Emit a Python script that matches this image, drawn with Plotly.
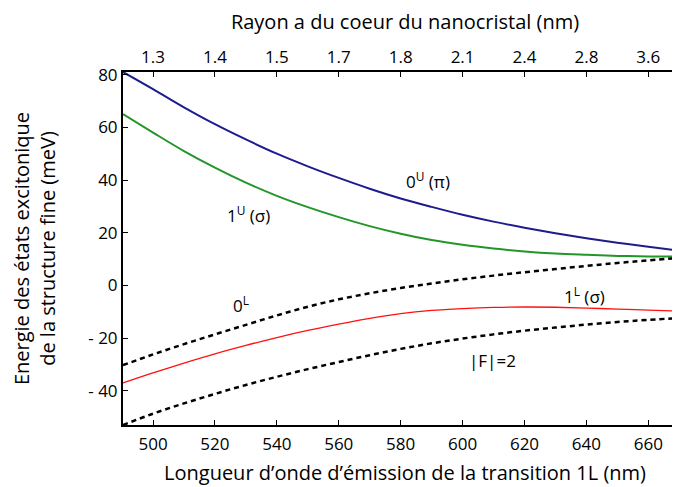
import plotly.graph_objects as go

# wavelength of the 1L transition (nm)
wavelength = [490.3, 500, 510, 520, 530, 540, 550, 560, 570, 580, 590, 600, 610, 620, 630, 640, 650, 660, 672.5]

# fine-structure exciton energies (meV)
e_0U_pi = [81.0, 74.5, 67.6, 61.2, 55.4, 50.0, 45.2, 40.8, 36.7, 33.0, 29.8, 26.8, 24.2, 21.9, 19.8, 17.9, 16.2, 14.7, 12.8]
e_1U_sigma = [65.0, 58.0, 51.0, 44.7, 39.0, 34.0, 29.7, 25.9, 22.5, 19.6, 17.2, 15.4, 14.0, 12.9, 12.1, 11.6, 11.2, 11.0, 10.9]
e_0L = [-30.3, -26.2, -22.3, -18.6, -15.0, -11.4, -8.1, -5.3, -3.0, -1.0, 0.7, 2.3, 3.7, 5.0, 6.2, 7.4, 8.5, 9.5, 10.7]
e_1L_sigma = [-37.0, -33.2, -29.5, -26.0, -22.8, -19.8, -17.1, -14.7, -12.5, -10.7, -9.5, -8.8, -8.35, -8.2, -8.3, -8.6, -9.0, -9.4, -9.9]
e_F2 = [-53.0, -48.7, -44.8, -41.2, -37.8, -34.7, -31.8, -29.1, -26.5, -24.1, -22.0, -20.2, -18.6, -17.2, -16.0, -14.9, -13.9, -13.1, -12.2]

x_ticks = [500, 520, 540, 560, 580, 600, 620, 640, 660]
radius_labels = ["1.3", "1.4", "1.5", "1.7", "1.8", "2.1", "2.4", "2.8", "3.6"]
y_ticks = [-40, -20, 0, 20, 40, 60, 80]
y_tick_labels = ["- 40", "- 20", "0", "20", "40", "60", "80"]

labels = ["0<sup>U</sup> (π)", "1<sup>U</sup> (σ)", "0<sup>L</sup>", "1<sup>L</sup> (σ)", "|F|=2"]
label_x = [588.7, 531.0, 528.4, 639.4, 609.7]
label_y = [39.7, 26.8, -7.4, -4.0, -28.7]

FONT = "Open Sans"
x_range = [490.3, 672.5]
y_range = [-53.0, 81.0]

fig = go.Figure()
fig.add_trace(go.Scatter(x=wavelength, y=e_0U_pi, mode="lines", line=dict(color="#1c1c8e", width=2), line_shape="spline"))
fig.add_trace(go.Scatter(x=wavelength, y=e_1U_sigma, mode="lines", line=dict(color="#23962a", width=2), line_shape="spline"))
fig.add_trace(go.Scatter(x=wavelength, y=e_0L, mode="lines", line=dict(color="black", width=2.5, dash="5px,4px"), line_shape="spline"))
fig.add_trace(go.Scatter(x=wavelength, y=e_1L_sigma, mode="lines", line=dict(color="#ff1010", width=1.3), line_shape="spline"))
fig.add_trace(go.Scatter(x=wavelength, y=e_F2, mode="lines", line=dict(color="black", width=2.5, dash="5px,4px"), line_shape="spline"))
# invisible trace for the top axis
fig.add_trace(go.Scatter(x=x_range, y=[0, 0], xaxis="x2", mode="lines", line=dict(width=0), opacity=0, hoverinfo="skip"))

for t, lx, ly in zip(labels, label_x, label_y):
    fig.add_annotation(x=lx, y=ly, text=t, showarrow=False, font=dict(family=FONT, size=17, color="black"))

fig.update_layout(
    width=680, height=487,
    margin=dict(l=115, r=1, t=64, b=70, autoexpand=False),
    paper_bgcolor="white", plot_bgcolor="white",
    showlegend=False,
    font=dict(family=FONT, size=17, color="black"),
    xaxis=dict(
        range=x_range, tickvals=x_ticks, ticks="inside", ticklen=5, tickwidth=1, tickcolor="black",
        showline=True, linecolor="black", linewidth=2, showgrid=False, zeroline=False, automargin=False,
        ticklabelstandoff=3,
        title=dict(text="Longueur d’onde d’émission de la transition 1L (nm)", standoff=12),
    ),
    xaxis2=dict(
        range=x_range, overlaying="x", side="top", tickvals=x_ticks, ticktext=radius_labels,
        ticks="inside", ticklen=5, tickwidth=1, tickcolor="black", automargin=False,
        showline=True, linecolor="black", linewidth=2, showgrid=False, zeroline=False,
        title=dict(text="Rayon a du coeur du nanocristal (nm)", standoff=14),
    ),
    yaxis=dict(
        range=y_range, tickvals=y_ticks, ticktext=y_tick_labels, ticks="inside", ticklen=5, tickwidth=1,
        tickcolor="black", showline=True, linecolor="black", linewidth=2, showgrid=False, zeroline=False,
        automargin=False,
        title=dict(text="Energie des états excitonique<br>de la structure fine (meV)", standoff=30),
    ),
)

fig.write_html("out.html")
